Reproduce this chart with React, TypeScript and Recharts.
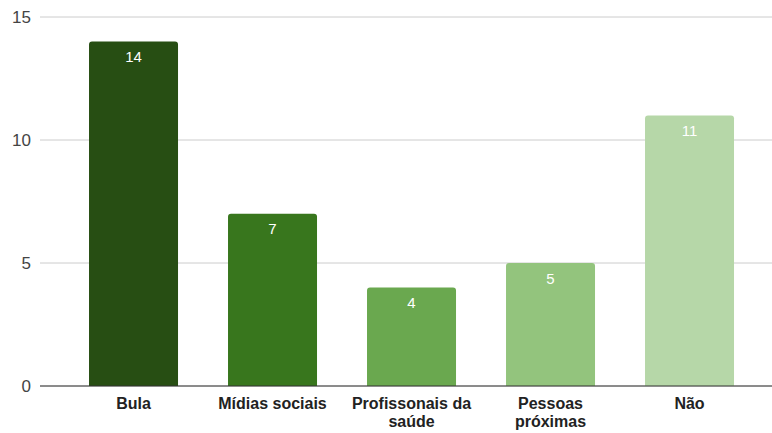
import { BarChart, Bar, XAxis, YAxis, CartesianGrid, Cell, LabelList } from 'recharts';

const categories = ['Bula', 'Mídias sociais', 'Profissonais da saúde', 'Pessoas próximas', 'Não'];
const counts = [14, 7, 4, 5, 11];
const barColors = ['#274e13', '#38761d', '#6aa84f', '#93c47d', '#b6d7a8'];
const yTicks = [0, 5, 10, 15];

const data = categories.map((name, i) => ({ name, value: counts[i] }));

// greedy wrap by character count
function wrap(label: string, maxChars = 15) {
  const lines: string[] = [];
  let cur = '';
  label.split(' ').forEach((w) => {
    const next = cur ? cur + ' ' + w : w;
    if (next.length > maxChars && cur) {
      lines.push(cur);
      cur = w;
    } else {
      cur = next;
    }
  });
  if (cur) lines.push(cur);
  return lines;
}

function CategoryTick(props: any) {
  const { x, y, payload } = props;
  const lines = wrap(String(payload.value));
  return (
    <text
      x={x}
      y={y}
      textAnchor="middle"
      fontFamily="'Liberation Sans', Arial, sans-serif"
      fontWeight="bold"
      fontSize={16}
      fill="#222222"
    >
      {lines.map((l, i) => (
        <tspan key={i} x={x} y={y + 15 + i * 18}>
          {l}
        </tspan>
      ))}
    </text>
  );
}

export default function App() {
  return (
    <div style={{ position: 'absolute', left: 0, top: 0, background: '#fff' }}>
      <BarChart
        width={772}
        height={433}
        data={data}
        margin={{ top: 17, right: 0, left: 0, bottom: 0 }}
        barCategoryGap="18%"
      >
        <CartesianGrid vertical={false} stroke="#cccccc" />
        <XAxis
          dataKey="name"
          interval={0}
          height={47}
          padding={{ left: 24, right: 13 }}
          tickLine={false}
          axisLine={{ stroke: '#333333' }}
          tick={<CategoryTick />}
        />
        <YAxis
          width={40}
          domain={[0, 15]}
          ticks={yTicks}
          axisLine={false}
          tickLine={false}
          tickMargin={3}
          tick={{ fill: '#444444', fontSize: 17, fontFamily: "'Liberation Sans', Arial, sans-serif" }}
        />
        <Bar dataKey="value" radius={[3, 3, 0, 0]} isAnimationActive={false}>
          {data.map((d, i) => (
            <Cell key={d.name} fill={barColors[i]} />
          ))}
          <LabelList
            dataKey="value"
            position="insideTop"
            offset={10}
            fill="#ffffff"
            fontSize={15}
            fontFamily="'Liberation Sans', Arial, sans-serif"
          />
        </Bar>
      </BarChart>
    </div>
  );
}
